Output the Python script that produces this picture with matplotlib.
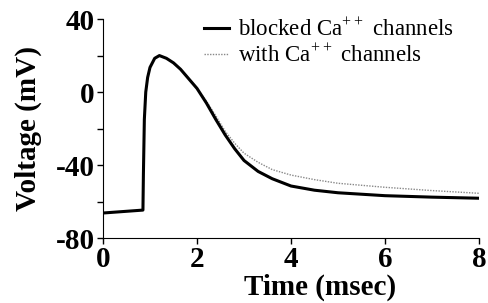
import matplotlib
matplotlib.use("Agg")
import matplotlib.pyplot as plt
from matplotlib.ticker import MultipleLocator

# blocked Ca++ channels
t_blocked = [0, 0.85, 0.86, 0.88, 0.91, 0.95, 1.0, 1.1, 1.2, 1.35, 1.5, 1.65, 1.8,
             2.0, 2.2, 2.4, 2.6, 2.8, 3.0, 3.3, 3.6, 4.0, 4.5, 5.0, 6.0, 7.0, 8.0]
v_blocked = [-66.3, -64.7, -45, -15, 0, 8, 13.5, 18.5, 20, 18.5, 16, 12.5, 8,
             2, -6, -15, -23.5, -31, -37.5, -43.5, -47.5, -51.5, -53.8, -55.2, -56.8, -57.6, -58.2]

# with Ca++ channels
t_with = [0, 0.85, 0.86, 0.88, 0.91, 0.95, 1.0, 1.1, 1.2, 1.35, 1.5, 1.65, 1.8,
          2.0, 2.2, 2.4, 2.6, 2.8, 3.0, 3.3, 3.6, 4.0, 4.5, 5.0, 6.0, 7.0, 8.0]
v_with = [-66.3, -64.7, -45, -15, 0, 8, 13.5, 18.5, 20, 18.5, 16, 12.5, 8,
          2, -5, -13, -21.5, -28, -33.5, -38.5, -42.5, -45.5, -48, -50, -52.2, -54, -55.5]

plt.rcParams['font.family'] = ['Liberation Serif', 'DejaVu Serif']
plt.rcParams['mathtext.fontset'] = 'custom'
plt.rcParams['mathtext.rm'] = 'Liberation Serif'
plt.rcParams['axes.unicode_minus'] = False

fig = plt.figure(figsize=(4.89, 3.03), dpi=100)
ax = fig.add_axes([0.2106, 0.2145, 0.769, 0.7225])

ax.plot(t_with, v_with, color='#888888', lw=1.0, ls=(0, (1, 1)), label=r'with Ca$^{++}$ channels')
ax.plot(t_blocked, v_blocked, color='black', lw=2.2, label=r'blocked Ca$^{++}$ channels')

ax.set_xlim(0, 8)
ax.set_ylim(-80, 40)
ax.xaxis.set_major_locator(MultipleLocator(2))
ax.yaxis.set_major_locator(MultipleLocator(40))
ax.yaxis.set_minor_locator(MultipleLocator(20))
ax.tick_params(which='both', direction='out', length=4, width=1, pad=2)
for lab in ax.get_xticklabels() + ax.get_yticklabels():
    lab.set_fontsize(21)
    lab.set_fontweight('bold')

for s in ['top', 'right']:
    ax.spines[s].set_visible(False)

ax.set_xlabel('Time (msec)', fontsize=21, fontweight='bold')
ax.xaxis.set_label_coords(0.577, -0.165)
ax.set_ylabel('Voltage (mV)', fontsize=21, fontweight='bold', labelpad=10)

h, l = ax.get_legend_handles_labels()
ax.legend(h[::-1], l[::-1], loc='upper left', bbox_to_anchor=(0.214, 1.10), frameon=False,
          fontsize=16.5, handlelength=1.1, handletextpad=0.4, labelspacing=0.15)

fig.savefig('out.png', dpi=100)
